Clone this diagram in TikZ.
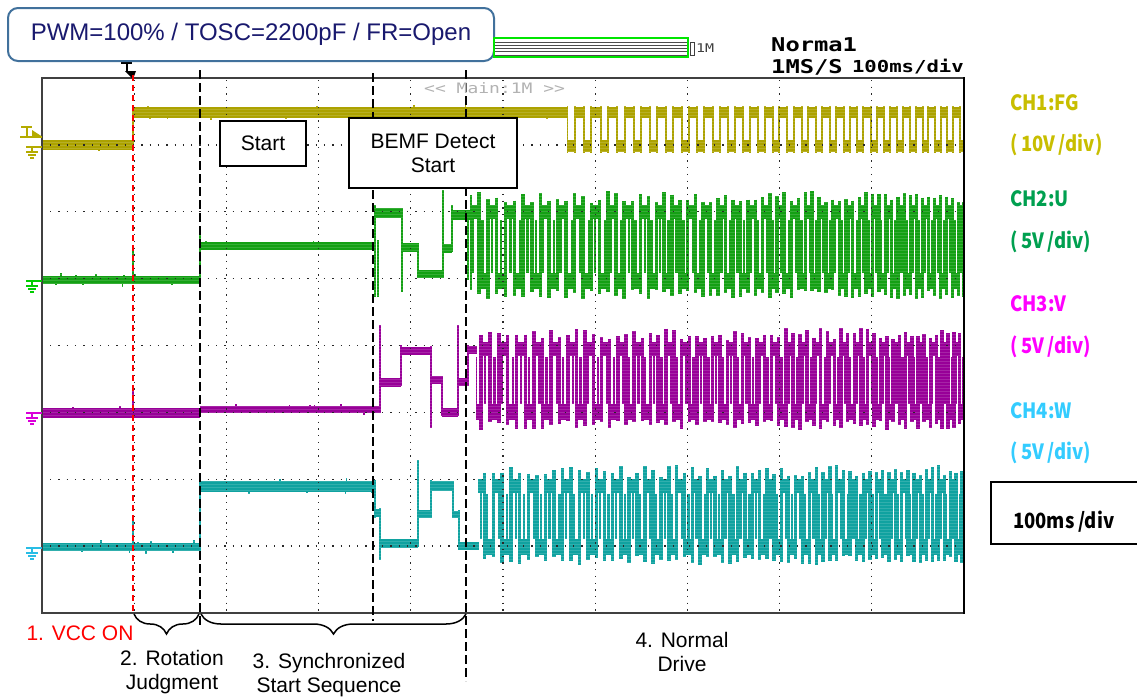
\documentclass[tikz,border=0pt]{standalone}
\usepackage{fontspec}
\setmainfont{Liberation Sans}
\newfontfamily\jpf[FakeStretch=0.88]{Noto Sans CJK JP}
\newfontfamily\scopefnt[FakeStretch=1.25]{DejaVu Sans Mono}
\usetikzlibrary{decorations.pathreplacing}
\definecolor{fgc}{RGB}{172,162,0}
\definecolor{uc}{RGB}{20,160,20}
\definecolor{vc}{RGB}{152,0,152}
\definecolor{wc}{RGB}{16,162,160}
\definecolor{fgl}{RGB}{200,190,0}
\definecolor{ul}{RGB}{0,160,80}
\definecolor{vl}{RGB}{255,0,255}
\definecolor{wl}{RGB}{51,204,255}
\definecolor{navy}{RGB}{25,25,110}
\definecolor{calloutb}{RGB}{65,113,156}
\definecolor{gridc}{RGB}{40,40,40}
\newcommand\wticks[6]{\foreach \k in {1,...,#5}{\pgfmathsetmacro\tx{#2+rnd*(#3-#2)}\pgfmathsetmacro\ty{#4+(rnd-0.5)*2*#6}\draw[#1,line width=1.6] (\tx,#4) -- (\tx,\ty);}}
\newcommand\threeph[5]{%
\begin{scope}
\clip (#5,150) rectangle (964.5,600);
\foreach \n in {-1,...,34}{
 \pgfmathsetmacro\xa{470+18*(\n+#2)-0.097*(\n+#2)*(\n+#2)}
 \pgfmathsetmacro\xb{470+18*(\n+#2+0.5)-0.097*(\n+#2+0.5)*(\n+#2+0.5)}
 \pgfmathsetmacro\xc{470+18*(\n+#2+1)-0.097*(\n+#2+1)*(\n+#2+1)}
 \pgfmathsetmacro\sa{#3-9-12*rnd}
 \pgfmathsetmacro\sb{#4+9+9*rnd}
 \pgfmathsetmacro\sc{#3-9-12*rnd}
 \pgfmathsetmacro\sd{#4+9+9*rnd}
 \pgfmathsetmacro\xe{\xa+(\xb-\xa)*(0.3+0.4*rnd)}
 \pgfmathsetmacro\xf{\xb+(\xc-\xb)*(0.3+0.4*rnd)}
 \fill[#1] (\xa,#3-7) rectangle (\xb,#3+7);
 \fill[#1] (\xb,#4-8) rectangle (\xc,#4+8);
 \draw[#1,line width=3.4] (\xb,\sa) -- (\xb,\sb);
 \draw[#1,line width=3.4] (\xc,\sc) -- (\xc,\sd);
 \draw[#1,line width=2.4] (\xe,#3) -- (\xe,#4-8);
 \draw[#1,line width=2.4] (\xf,#4) -- (\xf,#3+8);
}
\end{scope}}
\newcommand\gnd[2]{\draw[#1,line width=1.2] (26,#2)--(42,#2) (32,#2)--(32,#2+5) (26,#2+5)--(38,#2+5) (28,#2+8)--(36,#2+8) (30,#2+11)--(34,#2+11);}
\tikzset{
 band/.style={line width=#1},
 vdash/.style={black,line width=1.8,dash pattern=on 9pt off 4pt},
 dotv/.style={gridc,line width=1.3,dash pattern=on 1.3pt off 5.4pt},
 doth/.style={gridc,line width=1.3,dash pattern=on 1.3pt off 7pt},
 lab/.style={font=\fontsize{21}{24}\selectfont,align=center,inner sep=0},
 boxn/.style={draw,line width=1.5,fill=white,inner sep=0,font=\fontsize{21}{24}\selectfont,align=center},
 chl/.style={anchor=west,inner sep=0,font=\jpf\bfseries\fontsize{21}{24}\selectfont},
 brc/.style={decorate,decoration={brace,mirror,amplitude=20pt},line width=1.5}
}
\begin{document}
\begin{tikzpicture}[x=1pt,y=-1pt]
\useasboundingbox (0,0) rectangle (1137,697);
\fill[white] (0,0) rectangle (1137,697);
\pgfmathsetseed{7}
% ---------- CH1 FG ----------
\draw[fgc,band=10] (42,145) -- (133,145);
\draw[fgc,line width=2] (133,150) -- (133,107);
\draw[fgc,band=11] (133,112.5) -- (567,112.5);
\wticks{fgc}{45}{130}{145}{8}{7}
\wticks{fgc}{136}{565}{112}{40}{8}
\begin{scope}
\clip (567,90) rectangle (964.5,170);
\foreach \n in {0,...,28}{
 \pgfmathsetmacro\xa{567+17*\n-0.091*\n*\n}
 \pgfmathsetmacro\xb{567+17*(\n+0.45)-0.091*(\n+0.45)*(\n+0.45)}
 \pgfmathsetmacro\xc{567+17*(\n+1)-0.091*(\n+1)*(\n+1)}
 \fill[fgc] (\xa,140) rectangle (\xb,152);
 \fill[fgc] (\xb,107) rectangle (\xc,118);
 \draw[fgc,line width=2] (\xa,106)--(\xa,153) (\xb,106)--(\xb,153);
}
\end{scope}
% ---------- CH2 U ----------
\draw[uc,band=8] (42,280) -- (200,280);
\draw[uc,line width=1.5] (133,280) -- (133,250);
\draw[uc,line width=2] (200,284) -- (200,235);
\draw[uc,band=8] (200,246) -- (375,246);
\draw[uc,line width=2] (375,297) -- (375,205) (378,297)--(378,240);
\draw[uc,band=10] (375,213) -- (402,213);
\draw[uc,line width=2] (402,208) -- (402,292);
\draw[uc,band=9] (402,247) -- (418,247);
\draw[uc,line width=2] (418,243) -- (418,278);
\draw[uc,band=8] (418,274) -- (443,274);
\draw[uc,line width=2] (443,278) -- (443,190);
\draw[uc,band=9] (443,248) -- (452,248);
\draw[uc,line width=2] (452,252) -- (452,205);
\draw[uc,band=10] (452,215) -- (470,215);
\draw[uc,line width=2] (468,210) -- (468,280);
\wticks{uc}{45}{198}{280}{20}{7}
\wticks{uc}{203}{372}{246}{15}{6}
\threeph{uc}{0}{212}{281}{470}
% ---------- CH3 V ----------
\draw[vc,band=10] (42,413) -- (200,413);
\draw[vc,line width=1.5] (133,413) -- (133,385);
\draw[vc,band=7] (200,409) -- (380,409);
\draw[vc,line width=2] (380,413) -- (380,325);
\draw[vc,band=9] (380,382) -- (401,382);
\draw[vc,line width=2] (401,386) -- (401,345);
\draw[vc,band=8] (401,351) -- (431,351);
\draw[vc,line width=2] (431,346) -- (431,428);
\draw[vc,band=8] (431,380) -- (442,380);
\draw[vc,line width=2] (442,376) -- (442,416);
\draw[vc,band=9] (442,412) -- (458,412);
\draw[vc,line width=2] (458,416) -- (458,325);
\draw[vc,band=8] (458,382) -- (468,382);
\draw[vc,line width=2] (468,386) -- (468,345);
\draw[vc,band=8] (468,350) -- (477,350);
\wticks{vc}{45}{198}{413}{18}{7}
\wticks{vc}{203}{378}{409}{14}{6}
\threeph{vc}{0.62}{349}{412}{476}
% ---------- CH4 W ----------
\draw[wc,band=8] (42,547) -- (200,547);
\draw[wc,line width=1.5] (133,547) -- (133,520);
\draw[wc,line width=2] (200,551) -- (200,480);
\draw[wc,band=11] (200,486) -- (375,486);
\draw[wc,line width=2] (375,480) -- (375,518);
\draw[wc,band=8] (375,513) -- (381,513);
\draw[wc,line width=2] (380,508) -- (380,560);
\draw[wc,band=9] (380,543) -- (418,543);
\draw[wc,line width=2] (418,547) -- (418,460);
\draw[wc,band=8] (418,514) -- (431,514);
\draw[wc,line width=2] (431,518) -- (431,480);
\draw[wc,band=10] (431,486) -- (453,486);
\draw[wc,line width=2] (453,481) -- (453,518);
\draw[wc,band=7] (453,514) -- (459,514);
\draw[wc,line width=2] (459,510) -- (459,550);
\draw[wc,band=8] (459,546) -- (479,546);
\wticks{wc}{45}{198}{547}{22}{7}
\wticks{wc}{203}{372}{486}{20}{8}
\threeph{wc}{0.3}{486}{547}{478}
% raster stripes
\foreach \yy in {100,103,...,580} {\draw[white,opacity=0.14,line width=0.7] (43,\yy) -- (963,\yy);}
% ---------- grid ----------
\foreach \i in {1,...,9} {\draw[dotv] (42+92.2*\i,80) -- (42+92.2*\i,612);}
\foreach \j in {1,...,7} {\draw[doth] (50,78+66.875*\j) -- (962,78+66.875*\j);}
\draw[black!75,line width=1.5] (964,78) -- (42,78) -- (42,613) -- (964,613);
\draw[black,line width=2] (964,77) -- (964,614);
% channel markers
\draw[fgl!90!black,line width=1.2] (21,127)--(32,127) (27,127)--(27,137) (20,137)--(42,137);
\fill[fgl!90!black] (32,130)--(42,136.5)--(32,137)--cycle;
\gnd{fgl!90!black}{147}
\gnd{green!80!black}{281}
\gnd{vl!85!black}{413}
\gnd{wl!80!teal}{548}
% top trigger marker
\draw[black,line width=1.3] (121,63)--(132,63) (127,63)--(127,72);
\fill[black] (125,71)--(136,71)--(133,79)--cycle;
% ---------- phase lines ----------
\coordinate (r0) at (133,75); \coordinate (r1) at (133,613);
\draw[red,line width=1.6,dash pattern=on 6pt off 4pt] (r0) -- (r1);
\coordinate (d1a) at (200,70); \coordinate (d1b) at (200,625);
\coordinate (d2a) at (373,73); \coordinate (d2b) at (373,621);
\coordinate (d3a) at (466,70); \coordinate (d3b) at (466,681);
\draw[vdash] (d1a) -- (d1b);
\draw[vdash] (d2a) -- (d2b);
\draw[vdash] (d3a) -- (d3b);
% ---------- boxes ----------
\node[boxn,minimum width=86,minimum height=45] (start) at (263,143.5) {Start};
\node[boxn,minimum width=168,minimum height=70] (bemf) at (433,153) {BEMF Detect\\Start};
\node[draw=calloutb,line width=2,fill=white,rounded corners=10pt,minimum width=486,minimum height=53,inner sep=0,text=navy,font=\fontsize{24}{28}\selectfont] (title) at (251,34.5) {PWM=100\% / TOSC=2200pF / FR=Open};
% ---------- top scope bar ----------
\fill[white] (494,38) rectangle (688,57);
\foreach \yy in {42,45.3,48.6,51.9,55} {\draw[black!70,line width=1] (494,\yy) -- (688,\yy);}
\draw[green!90!black,line width=1.2] (494,38) rectangle (688,57);
\draw[black!75,line width=1] (690.5,42) rectangle (694,55);
\node[anchor=west,inner sep=0,font=\scopefnt\fontsize{12}{14}\selectfont,text=black!75] (onem) at (696,48) {1M};
\node[anchor=west,inner sep=0,font=\scopefnt\bfseries\fontsize{19}{22}\selectfont] (norm) at (771,45) {Norma1};
\node[anchor=west,inner sep=0,font=\scopefnt\bfseries\fontsize{19}{22}\selectfont] (rate) at (771,67) {1MS/S};
\node[anchor=east,inner sep=0,font=\scopefnt\bfseries\fontsize{16.5}{20}\selectfont] (tdiv) at (964,67) {100ms/div};
\node[anchor=west,inner sep=0,font=\scopefnt\fontsize{14.4}{16}\selectfont,text=black!30] (mainm) at (424,88) {<< Main:1M >>};
% ---------- right labels ----------
\node[chl,text=fgl] (c1) at (1010,103) {CH1:FG};
\node[chl,text=fgl] (c1s) at (1010,145) {(\,10V\,/div)};
\node[chl,text=ul] (c2) at (1010,199) {CH2:U};
\node[chl,text=ul] (c2s) at (1010,242) {(\,5V\,/div)};
\node[chl,text=vl] (c3) at (1010,304) {CH3:V};
\node[chl,text=vl] (c3s) at (1010,347) {(\,5V\,/div)};
\node[chl,text=wl] (c4) at (1010,411) {CH4:W};
\node[chl,text=wl] (c4s) at (1010,453) {(\,5V\,/div)};
\draw[black,line width=1.5] (991,482) rectangle (1145,544);
\node[chl,text=black] (tb) at (1013,522) {100ms\,/div};
% ---------- braces and phase labels ----------
\coordinate (b0) at (134,614); \coordinate (b1) at (199,614); \coordinate (b2) at (201,614); \coordinate (b3) at (466,614);
\draw[brc] (b0) -- (b1);
\draw[brc] (b2) -- (b3);
\node[lab,text=red] (vcc) at (80,633) {1. VCC ON};
\node[lab] (rot) at (172,672) {2. Rotation\\Judgment};
\node[lab] (sync) at (329,675) {3. Synchronized\\Start Sequence};
\node[lab] (norm4) at (682,652) {4. Normal\\Drive};
\end{tikzpicture}
\end{document}
